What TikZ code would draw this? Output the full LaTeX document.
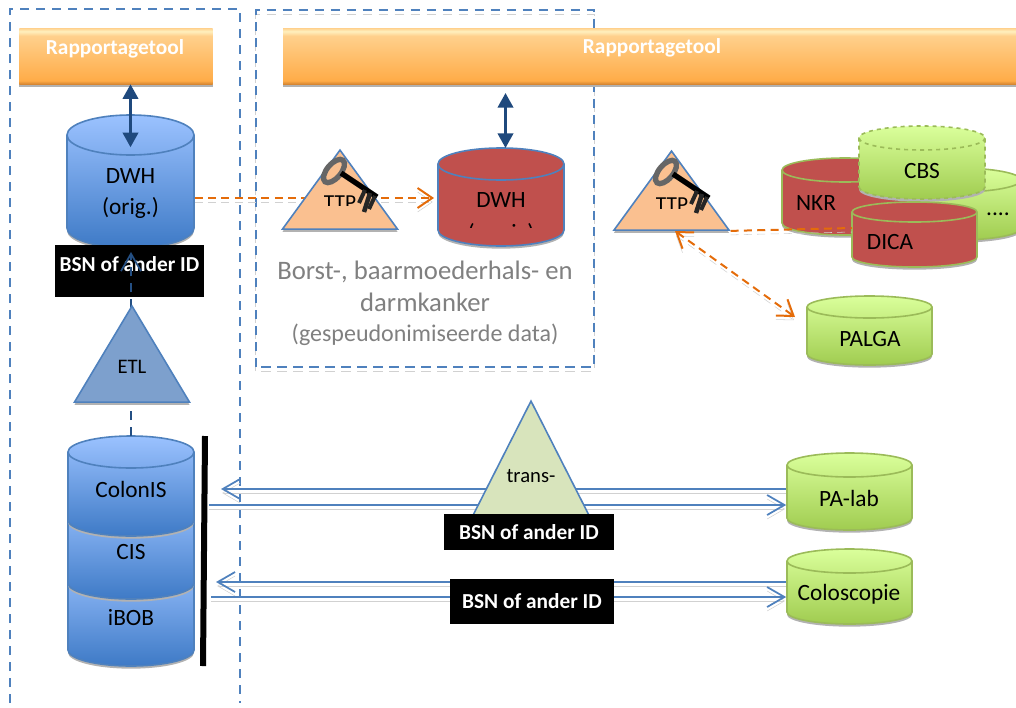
\documentclass[tikz,border=0pt]{standalone}
\usepackage{fontspec}
\setmainfont{Carlito}
\usepackage{tikz}
\usetikzlibrary{arrows.meta, shapes.geometric, shadows}
\definecolor{framblue}{RGB}{79, 129, 189}
\definecolor{darkarrow}{RGB}{31, 73, 125}
\definecolor{dashorange}{RGB}{228, 108, 10}
\definecolor{dbred}{RGB}{192, 80, 77}
\definecolor{dbgreen}{RGB}{155, 187, 89}
\definecolor{ttporange}{RGB}{250, 192, 144}
\definecolor{etlblue}{RGB}{125, 160, 205}
\definecolor{transgreen}{RGB}{216, 228, 188}
\definecolor{textgray}{RGB}{128, 128, 128}
\definecolor{tooltop}{RGB}{255, 208, 140}
\definecolor{toolbottom}{RGB}{255, 172, 72}
\definecolor{toolhigh}{RGB}{255, 240, 190}
\definecolor{tooledge}{RGB}{215, 135, 50}
\definecolor{cyltopblue}{RGB}{155, 194, 255}
\definecolor{cylbotblue}{RGB}{62, 122, 198}
\definecolor{cyltopgreen}{RGB}{218, 255, 155}
\definecolor{cylbotgreen}{RGB}{160, 204, 80}
\pgfdeclareverticalshading{toolshade}{100bp}{color(0bp)=(tooledge); color(25bp)=(tooledge);
  color(28bp)=(toolbottom); color(68bp)=(tooltop); color(72bp)=(toolhigh);
  color(75bp)=(tooltop); color(100bp)=(tooltop)}

\begin{document}
\begin{tikzpicture}[
        x=0.75pt, y=-0.75pt,
        softshadow/.style={drop shadow={shadow xshift=0pt, shadow yshift=-2pt,
                    fill=black!30, opacity=1}},
        lineshadow/.style={preaction={draw=black!18, transform canvas={yshift=-3pt}, #1}},
        lineshadow/.default={},
        frame/.style={draw=framblue, line width=1.5pt, dash pattern=on 7pt off 5pt},
        toolbox/.style={rectangle, minimum height=42pt, inner sep=0pt, softshadow,
                    shade, shading=toolshade},
        tooltext/.style={font=\fontsize{16}{18}\selectfont\bfseries, text=white},
        cyl/.style n args={3}{cylinder, shape border rotate=90, anchor=shape center,
                    inner sep=1pt, minimum width=0.75pt*#1, minimum height=0.75pt*#2,
                    /utils/exec={\pgfmathsetmacro\cylaspect{0.75*#3}},
                    aspect=\cylaspect, line width=1.2pt, softshadow},
        bluecyl/.style={draw=framblue, top color=cyltopblue, bottom color=cylbotblue},
        greencyl/.style={draw=dbgreen, top color=cyltopgreen, bottom color=cylbotgreen},
        redcyl/.style={draw=dbgreen, fill=dbred},
        tri/.style n args={2}{isosceles triangle, isosceles triangle stretches,
                    shape border rotate=90, anchor=apex, inner sep=0pt,
                    minimum width=0.75pt*#1, minimum height=0.75pt*#2,
                    draw=framblue, line width=1.2pt, softshadow},
        lbl/.style={font=\fontsize{17.5}{23}\selectfont, inner sep=0pt, align=center},
        idbox/.style={fill=black, text=white, inner sep=0pt,
                    font=\fontsize{16}{18}\selectfont\bfseries},
        bluearrow/.style={draw=framblue, line width=1.3pt, lineshadow,
                    -{Straight Barb[length=13pt, width=15pt]}},
        orangearrow/.style={draw=dashorange, line width=1.5pt, dash pattern=on 6pt off 4pt,
                    lineshadow={dash pattern=on 6pt off 4pt},
                    -{Straight Barb[length=11pt, width=15pt]}},
        darkdouble/.style={draw=darkarrow, line width=2.2pt,
                    {Triangle[length=11pt, width=11.5pt]}-{Triangle[length=11pt, width=11.5pt]}},
        keyicon/.pic={
          \draw[black!60, line width=4pt, rotate=50] (0,0) ellipse (14 and 7);
          \draw[black, line width=4pt] (7,2) -- (43,26);
          \draw[black!85, line width=3pt] (31,19) -- (25,32);
          \draw[black!85, line width=3.4pt] (36,22) -- (30,41);
          \draw[black!85, line width=3pt] (41,25) -- (35,38);
        },
      ]
        \useasboundingbox (0,0) rectangle (1016,707);
        \clip (0,0) rectangle (1016,707);

        \draw[frame] (10,703) -- (10,9) -- (240,9) -- (240,703);
        \draw[frame, lineshadow={dash pattern=on 7pt off 5pt}] (255.5,367) rectangle (594,10);

        \node[toolbox, minimum width=145pt] (toolleft) at (116,56) {};
        \node[tooltext] (toolleftname) at (115,49) {Rapportagetool};
        \node[toolbox, minimum width=600pt] (toolright) at (683,56) {};
        \node[tooltext] (toolrightname) at (652,48) {Rapportagetool};

        \node[cyl={127}{133}{20}, bluecyl] (dwhorig) at (130.5,181.5) {};
        \node[lbl] (dwhorigname) at (130.5,193.5) {DWH\\(orig.)};
        \node[cyl={126}{98}{16}, draw=framblue, fill=dbred] (dwhpseudo) at (501,197) {};
        \begin{scope}
          \clip (440,180) rectangle (562,227);
          \node[lbl] (dwhpseudoname) at (501,218.5) {DWH\\[1.75pt](\hspace{27.5pt}i\hspace{8pt})};
        \end{scope}

        \coordinate (dashend) at (434,198);
        \draw[orangearrow] (dwhorig.east |- dashend) -- (dashend);
        \draw[darkdouble] (toolleft.south -| dwhorig.shape center) -- +(0,63);
        \coordinate (pseudotop) at (505.5,148);
        \draw[darkdouble] (pseudotop) -- +(0,-55);

        \node[tri={115}{79}, fill=ttporange] (ttpleft) at (340,148) {};
        \begin{scope}
          \clip (300,190) rectangle (390,205);
          \node[lbl, font=\fontsize{16}{18}\selectfont] (ttpleftname) at (340,203) {TTP};
        \end{scope}
        \pic at (334,171) {keyicon};

        \node[cyl={126}{72}{12}, greencyl] (etc) at (958,204) {};
        \node[lbl] (etcname) at (998,214) {....};
        \node[cyl={126}{77}{12}, redcyl] (nkr) at (845,196.5) {};
        \node[lbl] (nkrname) at (816,203) {NKR};
        \node[cyl={126}{73}{12}, greencyl, draw=dbgreen, dashed] (cbs) at (922,162.5) {};
        \node[lbl] (cbsname) at (922,171) {CBS};
        \coordinate (dicaleft) at (852,228);
        \node[cyl={125}{65}{10}, redcyl] (dica) at (914.5,234.5) {};
        \node[lbl] (dicaname) at (890,242) {DICA};
        \node[cyl={125}{69}{11}, greencyl] (palga) at (869.5,330.5) {};
        \node[lbl] (palganame) at (870,339) {PALGA};

        \node[tri={115}{79}, fill=ttporange] (ttpright) at (671.5,149) {};
        \begin{scope}
          \clip (630,190) rectangle (720,208);
          \node[lbl, font=\fontsize{16}{18}\selectfont] (ttprightname) at (672,205) {TTP};
        \end{scope}
        \pic at (666,172) {keyicon};
        \draw[orangearrow, -] (ttpright.right corner) -- (dicaleft);
        \coordinate (palgatip) at (795,317);
        \coordinate (ttptip) at (675,231);
        \draw[orangearrow, {Straight Barb[length=11pt, width=15pt]}-{Straight Barb[length=11pt, width=15pt]}]
          (ttptip) -- (palgatip);

        \node[lbl, text=textgray, font=\fontsize{20}{24}\selectfont] (regioname) at (425,286)
          {Borst-, baarmoederhals- en\\darmkanker};
        \node[lbl, text=textgray, font=\fontsize{18}{20}\selectfont] (regiosub) at (425,335)
          {(gespeudonimiseerde data)};

        \node[cyl={126}{106}{16}, bluecyl] (ibob) at (131,613) {};
        \node[lbl] (ibobname) at (131,618) {iBOB};
        \node[cyl={126}{102}{16}, bluecyl] (cis) at (131,548) {};
        \node[lbl] (cisname) at (131,552) {CIS};
        \node[cyl={126}{100}{16}, bluecyl] (colonis) at (131,486) {};
        \node[lbl] (colonisname) at (131,489) {ColonIS};
        \draw[black, line width=4.5pt] (205,436) -- (203,666);

        \node[idbox, minimum width=111.75pt, minimum height=39pt] (idetl) at (129.5,271) {};
        \node[idbox, fill=none] (idetlname) at (129.5,264) {BSN of ander ID};
        \draw[draw=darkarrow!90!framblue, line width=1.3pt, dash pattern=on 7pt off 5pt,
              -{Straight Barb[length=13pt, width=15pt]}]
          (colonis.shape center |- 0,436) -- (colonis.shape center |- 0,252);
        \node[tri={115}{96}, fill=etlblue] (etl) at (132,304) {};
        \node[font=\fontsize{15.5}{18}\selectfont, inner sep=0pt] (etlname) at (132,367) {ETL};

        \node[cyl={125}{77}{12}, greencyl] (palab) at (849.5,491.5) {};
        \node[lbl] (palabname) at (849,498) {PA-lab};
        \node[cyl={125}{75}{12}, greencyl] (colo) at (849.5,586.5) {};
        \node[lbl] (coloname) at (849,594) {Coloscopie};

        \coordinate (palabin) at (221,489);
        \coordinate (palabout) at (209,505);
        \coordinate (coloin) at (216,582);
        \coordinate (coloout) at (211,597);
        \draw[bluearrow] (palabin -| palab.west) -- (palabin);
        \draw[bluearrow] (palabout) -- (palabout -| palab.west);
        \draw[bluearrow] (coloin -| colo.west) -- (coloin);
        \draw[bluearrow] (coloout) -- (coloout -| colo.west);

        \node[tri={128}{126}, fill=transgreen] (trans) at (531,399) {};
        \node[font=\fontsize{15.5}{18}\selectfont, inner sep=0pt] (transname) at (531,476) {trans-};
        \node[idbox, minimum width=127.5pt, minimum height=27pt] (idtrans) at (529,532) {BSN of ander ID};
        \node[idbox, minimum width=123pt, minimum height=33.75pt] (idcolo) at (532,601.5) {BSN of ander ID};
      \end{tikzpicture}
\end{document}
